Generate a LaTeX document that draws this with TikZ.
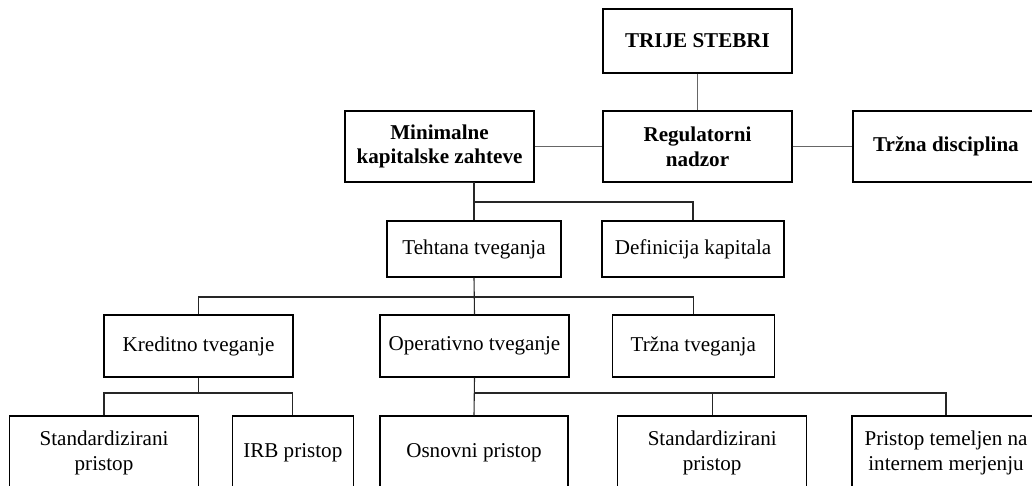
\documentclass[tikz,border=0pt]{standalone}
\usepackage{fontspec}
\setmainfont{Liberation Serif}
\begin{document}
\begin{tikzpicture}[x=0.5pt,y=-0.5pt,
  box/.style={draw=black,line width=0.55pt,fill=white,inner sep=0pt,align=center,
    font=\fontsize{10.55}{12.4}\selectfont},
  head/.style={box,font=\fontsize{10.55}{12.4}\selectfont\bfseries},
  link/.style={draw=black!85,line width=0.55pt},
  toplink/.style={draw=black!60,line width=0.6pt}]
\clip (0,0) rectangle (1032,486);

% first level: the three pillars
\node[head,minimum width=94.5pt,minimum height=32pt] (trije) at (697.5,41) {TRIJE STEBRI};
\node[head,minimum width=94.5pt,minimum height=35.5pt] (minimal) at (439.5,146.5) {Minimalne\\kapitalske zahteve};
\node[head,minimum width=94.5pt,minimum height=35.5pt] (regul) at (697.5,146.5) {Regulatorni\\nadzor};
\node[head,minimum width=93pt,minimum height=35.5pt] (trzna) at (946,146.5) {Tržna disciplina};

% second level
\node[box,minimum width=87pt,minimum height=28pt] (tehtana) at (474,249) {Tehtana tveganja};
\node[box,minimum width=91pt,minimum height=28pt] (definicija) at (693,249) {Definicija kapitala};

% third level: risk types
\node[box,minimum width=94.5pt,minimum height=31pt] (kreditno) at (198.5,346) {Kreditno tveganje};
\node[box,minimum width=94.5pt,minimum height=31pt] (operativno) at (474.5,346) {Operativno tveganje};
\node[box,minimum width=80.75pt,minimum height=31pt] (trznatv) at (693.3,346) {Tržna tveganja};

% fourth level: approaches
\node[box,minimum width=94.7pt,minimum height=37pt] (std1) at (104,453) {Standardizirani\\pristop};
\node[box,minimum width=60.5pt,minimum height=37pt] (irb) at (292.8,453) {IRB pristop};
\node[box,minimum width=94pt,minimum height=37pt] (osnovni) at (474,453) {Osnovni pristop};
\node[box,minimum width=94.5pt,minimum height=37pt] (std2) at (712.2,453) {Standardizirani\\pristop};
\node[box,minimum width=94pt,minimum height=37pt] (pristop) at (946,453) {Pristop temeljen na\\internem merjenju};

% branching points
\coordinate (j1) at (474,202);
\coordinate (j2) at (474,297);
\coordinate (j3) at (198.5,393);
\coordinate (j4) at (474,393);

% connectors
\draw[toplink] (trije.south) -- (regul.north);
\draw[toplink] (minimal.east) -- (regul.west);
\draw[toplink] (regul.east) -- (trzna.west);

\draw[link] (minimal.south) -- (minimal.south -| tehtana.north) -- (tehtana.north);
\draw[link] (j1) -| (definicija.north);

\draw[link] (tehtana.south) -- (operativno.north);
\draw[link] (kreditno.north) |- (j2) -| (trznatv.north);

\draw[link] (kreditno.south) -- (j3);
\draw[link] (std1.north) |- (j3) -| (irb.north);

\draw[link] (operativno.south) -- (osnovni.north);
\draw[link] (j4) -| (pristop.north);
\draw[link] (std2.north) -- (std2.north |- j4);
\end{tikzpicture}
\end{document}
